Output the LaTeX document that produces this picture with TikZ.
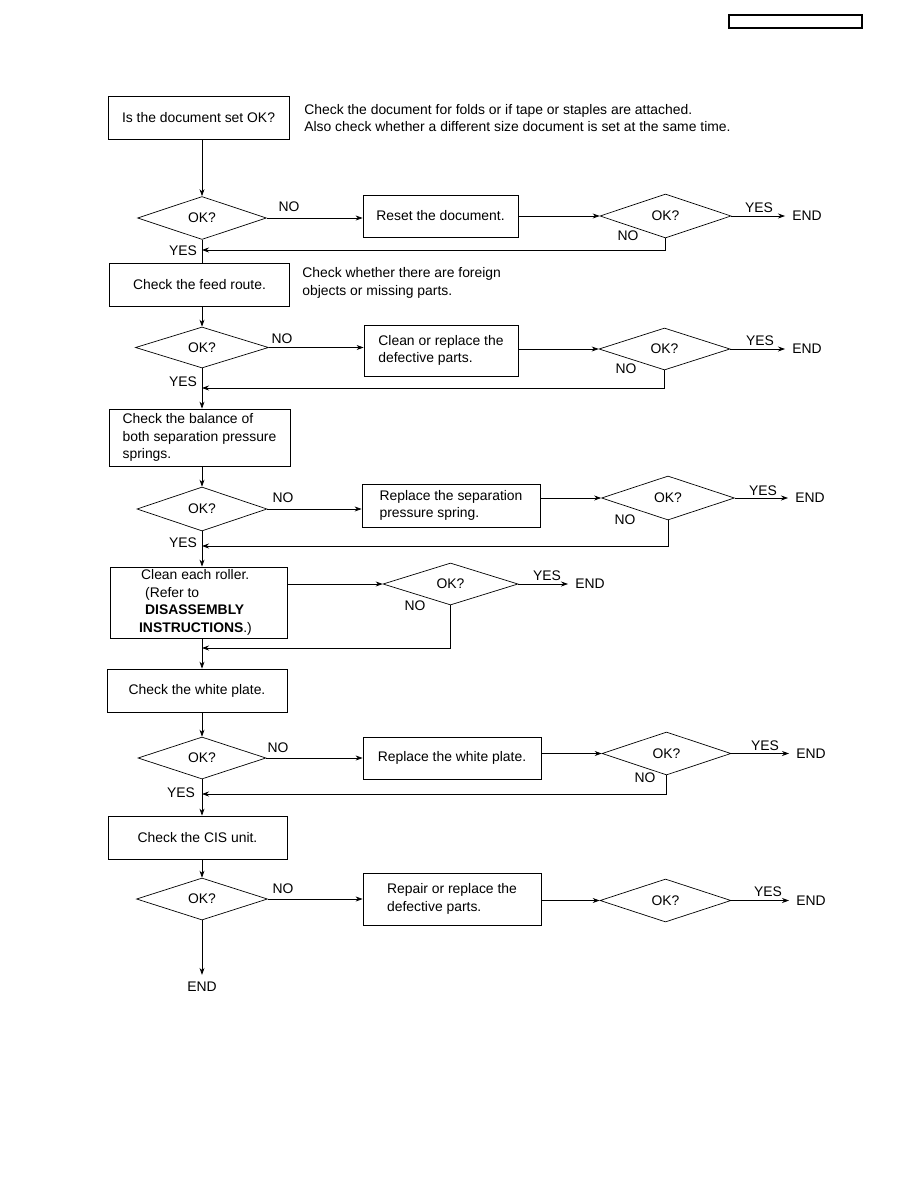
\documentclass[tikz,border=0pt]{standalone}
\usepackage{fontspec}
\setmainfont{Liberation Sans}
\usepackage{tikz}
\usetikzlibrary{shapes.geometric, arrows.meta, positioning}
\newcommand{\fs}{\fontsize{13.9}{17.5}\selectfont}

\begin{document}
\begin{tikzpicture}[x=1pt, y=-1pt, line width=0.7pt,
  box/.style={draw, line width=0.8pt, inner sep=0pt, align=left, font=\fs},
  okq/.style={draw, diamond, aspect=3, inner sep=0pt, font=\fs},
  lbl/.style={inner sep=0pt, font=\fs},
  fin/.style={inner sep=7pt, font=\fs},
  arr/.style={-{Stealth[length=7pt, width=5pt]}}]
 \useasboundingbox (0,0) rectangle (918,1188);
 \draw[line width=1.2pt] (729,15) rectangle (862,28);

 % main column
 \node[box, minimum width=181, minimum height=43] (chk1) at (198.5,117.5) {Is the document set OK?};
 \node[lbl, anchor=west, align=left] (note1) at (304,118) {Check the document for folds or if tape or staples are attached.\\Also check whether a different size document is set at the same time.};
 \node[okq, minimum width=129, minimum height=43] (ok1) at (202,218) {OK?};
 \node[box, minimum width=180, minimum height=43] (chk2) at (199.5,284.5) {Check the feed route.};
 \node[lbl, anchor=west, align=left] (note2) at (302,283) {Check whether there are foreign\\objects or missing parts.};
 \node[okq, minimum width=133, minimum height=41] (ok2) at (202,347.5) {OK?};
 \node[box, minimum width=181, minimum height=57] (chk3) at (199.5,437.5) {Check the balance of\\both separation pressure\\springs.};
 \node[okq, minimum width=130, minimum height=44] (ok3) at (202,509) {OK?};
 \node[box, minimum width=177, minimum height=71] (chk4) at (198.5,602.5) {\hspace*{2pt}Clean each roller.\\\hspace*{6pt}(Refer to\\\hspace*{6pt}\textbf{DISASSEMBLY}\\\textbf{INSTRUCTIONS}.)\hspace*{6pt}};
 \node[box, minimum width=180, minimum height=43] (chk5) at (197,690.5) {Check the white plate.};
 \node[okq, minimum width=128, minimum height=42] (ok5) at (202,758) {OK?};
 \node[box, minimum width=179, minimum height=43] (chk6) at (197.5,837.5) {Check the CIS unit.};
 \node[okq, minimum width=131, minimum height=42] (ok6) at (202,899) {OK?};
 \node[fin] (endB) at (202,987) {END};

 % remedies
 \node[box, minimum width=155, minimum height=42] (rst1) at (440.5,216) {Reset the document.};
 \node[box, minimum width=154, minimum height=51] (cln2) at (441,350.5) {Clean or replace the\\defective parts.};
 \node[box, minimum width=178, minimum height=43] (rep3) at (451,505.5) {Replace the separation\\pressure spring.};
 \node[box, minimum width=178, minimum height=42] (rep5) at (452,758) {Replace the white plate.};
 \node[box, minimum width=178, minimum height=52] (rep6) at (452,899) {Repair or replace the\\defective parts.};

 % second checks
 \node[okq, minimum width=131, minimum height=44] (ok1b) at (665.5,216) {OK?};
 \node[okq, minimum width=131, minimum height=42] (ok2b) at (664.5,349) {OK?};
 \node[okq, minimum width=133, minimum height=44] (ok3b) at (668,498) {OK?};
 \node[okq, minimum width=135, minimum height=42] (ok4) at (450.5,584) {OK?};
 \node[okq, minimum width=129, minimum height=43] (ok5b) at (666.5,753.5) {OK?};
 \node[okq, minimum width=131, minimum height=43] (ok6b) at (665.5,900.5) {OK?};

 \node[fin, anchor=west] (end1) at (785,216) {END};
 \node[fin, anchor=west] (end2) at (785,349) {END};
 \node[fin, anchor=west] (end3) at (788,498) {END};
 \node[fin, anchor=west] (end4) at (568,584) {END};
 \node[fin, anchor=west] (end5) at (789,753.5) {END};
 \node[fin, anchor=west] (end6) at (789,900.5) {END};

 % return points on the column
 \coordinate (j1) at (202,250);
 \coordinate (j2) at (202,388);
 \coordinate (j3) at (202,546);
 \coordinate (j4) at (202,648);
 \coordinate (j5) at (202,794);

 % column connectors
 \draw[arr] (chk1.south -| ok1) -- (ok1.north);
 \draw (ok1.south) -- (chk2.north -| ok1);
 \draw[arr] (chk2.south -| ok2) -- (ok2.north);
 \draw[arr] (ok2.south) -- (chk3.north -| ok2);
 \draw[arr] (chk3.south -| ok3) -- (ok3.north);
 \draw[arr] (ok3.south) -- (chk4.north -| ok3);
 \draw[arr] (chk4.south -| ok3) -- (chk5.north -| ok3);
 \draw[arr] (chk5.south -| ok5) -- (ok5.north);
 \draw[arr] (ok5.south) -- (chk6.north -| ok5);
 \draw[arr] (chk6.south -| ok6) -- (ok6.north);
 \draw[arr] (ok6.south) -- (endB.north);

 % NO branches
 \draw[arr] (ok1.east) -- (ok1.east -| rst1.west);
 \draw[arr] (ok2.east) -- (ok2.east -| cln2.west);
 \draw[arr] (ok3.east) -- (ok3.east -| rep3.west);
 \draw[arr] (ok5.east) -- (ok5.east -| rep5.west);
 \draw[arr] (ok6.east) -- (ok6.east -| rep6.west);

 \draw[arr] (rst1.east |- ok1b.west) -- (ok1b.west);
 \draw[arr] (cln2.east |- ok2b.west) -- (ok2b.west);
 \draw[arr] (rep3.east |- ok3b.west) -- (ok3b.west);
 \draw[arr] (chk4.east |- ok4.west) -- (ok4.west);
 \draw[arr] (rep5.east |- ok5b.west) -- (ok5b.west);
 \draw[arr] (rep6.east |- ok6b.west) -- (ok6b.west);

 \draw[arr] (ok1b.east) -- (end1.west);
 \draw[arr] (ok2b.east) -- (end2.west);
 \draw[arr] (ok3b.east) -- (end3.west);
 \draw[arr] (ok4.east) -- (end4.west);
 \draw[arr] (ok5b.east) -- (end5.west);
 \draw[arr] (ok6b.east) -- (end6.west);

 \draw[arr] (ok1b.south) |- (j1);
 \draw[arr] (ok2b.south) |- (j2);
 \draw[arr] (ok3b.south) |- (j3);
 \draw[arr] (ok4.south) |- (j4);
 \draw[arr] (ok5b.south) |- (j5);

 % labels
 \foreach \x/\y/\t in {289/207/NO, 282/339/NO, 283/498/NO, 278/748/NO, 283/889/NO,
   759/208/YES, 760/341/YES, 763/491/YES, 547/576/YES, 765/746/YES, 768/892/YES,
   628/236/NO, 626/369/NO, 625/520/NO, 415/606/NO, 645/778/NO,
   183/251/YES, 183/382/YES, 183/543/YES, 181/793/YES}
   \node[lbl] at (\x,\y) {\t};
\end{tikzpicture}
\end{document}
